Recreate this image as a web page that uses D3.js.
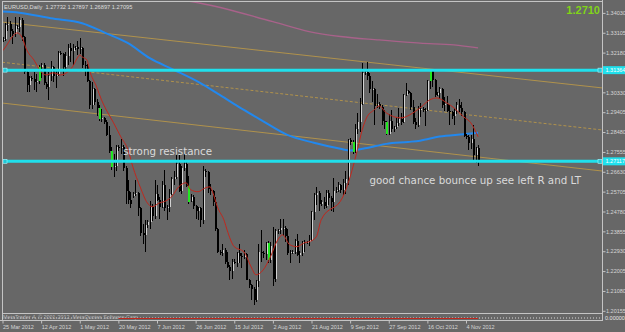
<!DOCTYPE html>
<html>
<head>
<meta charset="utf-8">
<script src="https://cdn.jsdelivr.net/npm/d3@7"></script>
<style>
  body { margin: 0; background: #676767; }
  svg { display: block; }
</style>
</head>
<body>
<div id="chart"></div>
<script>
// EURUSD daily, 25 Mar 2012 .. 9 Nov 2012, broker with Sunday bars (6 bars a week)
// each row: [open, high, low, close]
const bars = [
  [1.3275,1.3290,1.3268,1.3282],[1.3282,1.3355,1.3270,1.3345],[1.3345,1.3385,1.3320,1.3350],[1.3350,1.3365,1.3290,1.3320],[1.3320,1.3330,1.3260,1.3305],[1.3305,1.3385,1.3290,1.3340],
  [1.3335,1.3345,1.3330,1.3338],[1.3338,1.3385,1.3315,1.3370],[1.3370,1.3380,1.3270,1.3290],[1.3290,1.3295,1.3120,1.3130],[1.3130,1.3140,1.3035,1.3065],[1.3065,1.3110,1.3035,1.3100],
  [1.3100,1.3110,1.3085,1.3095],[1.3095,1.3130,1.3045,1.3080],[1.3080,1.3120,1.3035,1.3085],[1.3085,1.3160,1.3070,1.3150],[1.3150,1.3170,1.3100,1.3160],[1.3160,1.3170,1.3065,1.3075],
  [1.3070,1.3080,1.3050,1.3060],[1.3060,1.3130,1.2995,1.3110],[1.3110,1.3180,1.3085,1.3150],[1.3150,1.3155,1.3080,1.3110],[1.3110,1.3140,1.3055,1.3120],[1.3120,1.3225,1.3110,1.3215],
  [1.3215,1.3225,1.3205,1.3210],[1.3210,1.3215,1.3110,1.3150],[1.3150,1.3220,1.3140,1.3200],[1.3200,1.3260,1.3160,1.3240],[1.3240,1.3265,1.3175,1.3225],[1.3225,1.3260,1.3160,1.3240],
  [1.3240,1.3250,1.3230,1.3245],[1.3245,1.3270,1.3205,1.3235],[1.3235,1.3285,1.3210,1.3240],[1.3240,1.3245,1.3145,1.3160],[1.3160,1.3180,1.3110,1.3155],[1.3155,1.3165,1.3080,1.3085],
  [1.3085,1.3090,1.2955,1.2975],[1.2975,1.3080,1.2955,1.3050],[1.3050,1.3055,1.2975,1.2990],[1.2990,1.3000,1.2925,1.2960],[1.2960,1.2975,1.2900,1.2910],[1.2910,1.2955,1.2895,1.2915],
  [1.2915,1.2920,1.2885,1.2895],[1.2895,1.2905,1.2830,1.2835],[1.2835,1.2875,1.2750,1.2760],[1.2760,1.2780,1.2670,1.2685],[1.2685,1.2745,1.2640,1.2690],[1.2690,1.2790,1.2665,1.2780],
  [1.2780,1.2790,1.2760,1.2775],[1.2775,1.2815,1.2745,1.2780],[1.2780,1.2790,1.2665,1.2680],[1.2680,1.2690,1.2515,1.2575],[1.2575,1.2625,1.2515,1.2530],[1.2530,1.2570,1.2495,1.2515],
  [1.2550,1.2570,1.2540,1.2560],[1.2560,1.2625,1.2550,1.2565],[1.2565,1.2570,1.2455,1.2495],[1.2495,1.2500,1.2365,1.2380],[1.2380,1.2420,1.2325,1.2370],[1.2370,1.2440,1.2288,1.2415],
  [1.2415,1.2440,1.2400,1.2430],[1.2430,1.2525,1.2395,1.2500],[1.2500,1.2515,1.2435,1.2455],[1.2455,1.2625,1.2445,1.2560],[1.2560,1.2600,1.2525,1.2530],[1.2530,1.2545,1.2445,1.2500],
  [1.2500,1.2620,1.2495,1.2600],[1.2600,1.2670,1.2480,1.2495],[1.2495,1.2510,1.2440,1.2500],[1.2500,1.2585,1.2475,1.2560],[1.2560,1.2640,1.2555,1.2630],[1.2630,1.2665,1.2600,1.2640],
  [1.2640,1.2745,1.2630,1.2700],[1.2700,1.2745,1.2570,1.2575],[1.2575,1.2690,1.2560,1.2680],[1.2680,1.2745,1.2665,1.2700],[1.2700,1.2710,1.2590,1.2595],[1.2595,1.2645,1.2515,1.2520],
  [1.2525,1.2560,1.2520,1.2545],[1.2545,1.2555,1.2490,1.2505],[1.2505,1.2510,1.2445,1.2480],[1.2480,1.2500,1.2440,1.2495],[1.2495,1.2500,1.2405,1.2440],[1.2440,1.2690,1.2420,1.2665],
  [1.2665,1.2675,1.2640,1.2660],[1.2660,1.2665,1.2565,1.2585],[1.2585,1.2605,1.2555,1.2575],[1.2575,1.2580,1.2505,1.2520],[1.2520,1.2545,1.2385,1.2395],[1.2395,1.2400,1.2285,1.2290],
  [1.2290,1.2300,1.2275,1.2285],[1.2285,1.2325,1.2270,1.2300],[1.2300,1.2310,1.2235,1.2245],[1.2245,1.2290,1.2215,1.2220],[1.2220,1.2230,1.2160,1.2200],[1.2200,1.2255,1.2165,1.2245],
  [1.2245,1.2255,1.2235,1.2240],[1.2240,1.2290,1.2220,1.2285],[1.2285,1.2325,1.2240,1.2270],[1.2270,1.2285,1.2215,1.2265],[1.2265,1.2300,1.2255,1.2280],[1.2280,1.2285,1.2160,1.2160],
  [1.2160,1.2165,1.2120,1.2135],[1.2135,1.2140,1.2065,1.2115],[1.2115,1.2125,1.2042,1.2065],[1.2065,1.2160,1.2055,1.2155],[1.2155,1.2325,1.2125,1.2290],[1.2290,1.2390,1.2245,1.2285],
  [1.2285,1.2295,1.2260,1.2280],[1.2280,1.2335,1.2250,1.2330],[1.2330,1.2340,1.2240,1.2250],[1.2250,1.2335,1.2240,1.2315],[1.2315,1.2405,1.2132,1.2165],[1.2165,1.2395,1.2150,1.2385],
  [1.2385,1.2395,1.2375,1.2390],[1.2390,1.2445,1.2375,1.2400],[1.2400,1.2445,1.2365,1.2400],[1.2400,1.2410,1.2335,1.2365],[1.2365,1.2395,1.2275,1.2285],[1.2285,1.2300,1.2240,1.2290],
  [1.2290,1.2300,1.2280,1.2290],[1.2290,1.2350,1.2280,1.2340],[1.2340,1.2375,1.2270,1.2275],[1.2275,1.2295,1.2240,1.2285],[1.2285,1.2340,1.2270,1.2335],[1.2335,1.2345,1.2290,1.2330],
  [1.2330,1.2340,1.2325,1.2335],[1.2335,1.2370,1.2315,1.2345],[1.2345,1.2480,1.2340,1.2475],[1.2475,1.2565,1.2440,1.2555],[1.2555,1.2590,1.2510,1.2565],[1.2565,1.2575,1.2480,1.2515],
  [1.2515,1.2530,1.2505,1.2520],[1.2520,1.2545,1.2490,1.2505],[1.2505,1.2580,1.2495,1.2565],[1.2565,1.2580,1.2510,1.2540],[1.2540,1.2550,1.2480,1.2520],[1.2520,1.2635,1.2475,1.2575],
  [1.2575,1.2590,1.2565,1.2580],[1.2580,1.2615,1.2570,1.2600],[1.2600,1.2605,1.2565,1.2580],[1.2580,1.2630,1.2550,1.2610],[1.2610,1.2665,1.2560,1.2630],[1.2630,1.2815,1.2600,1.2810],
  [1.2810,1.2820,1.2790,1.2800],[1.2800,1.2810,1.2745,1.2755],[1.2755,1.2885,1.2750,1.2860],[1.2860,1.2935,1.2840,1.2895],[1.2895,1.3005,1.2850,1.2980],[1.2980,1.3170,1.2975,1.3125],
  [1.3125,1.3140,1.3115,1.3130],[1.3130,1.3172,1.3090,1.3110],[1.3110,1.3125,1.3030,1.3050],[1.3050,1.3085,1.2990,1.3050],[1.3050,1.3055,1.2880,1.2970],[1.2970,1.3025,1.2960,1.2980],
  [1.2980,1.2990,1.2955,1.2965],[1.2965,1.2975,1.2880,1.2900],[1.2900,1.2950,1.2860,1.2895],[1.2895,1.2900,1.2835,1.2840],[1.2840,1.2930,1.2835,1.2900],[1.2900,1.2950,1.2850,1.2860],
  [1.2860,1.2875,1.2850,1.2870],[1.2870,1.2920,1.2860,1.2890],[1.2890,1.2960,1.2875,1.2910],[1.2910,1.2935,1.2880,1.2895],[1.2895,1.3025,1.2890,1.3020],[1.3020,1.3075,1.3015,1.3040],
  [1.3040,1.3045,1.3025,1.3030],[1.3030,1.3035,1.2950,1.2965],[1.2965,1.2995,1.2885,1.2895],[1.2895,1.2915,1.2860,1.2880],[1.2880,1.2970,1.2870,1.2955],[1.2955,1.2985,1.2920,1.2955],
  [1.2955,1.2965,1.2940,1.2950],[1.2950,1.2960,1.2875,1.2950],[1.2950,1.3090,1.2945,1.3085],[1.3085,1.3140,1.3050,1.3135],[1.3135,1.3140,1.3060,1.3090],[1.3090,1.3095,1.3010,1.3020],
  [1.3020,1.3035,1.3015,1.3030],[1.3030,1.3060,1.3000,1.3050],[1.3050,1.3055,1.2960,1.2975],[1.2975,1.3010,1.2945,1.2980],[1.2980,1.3015,1.2940,1.2945],[1.2945,1.2975,1.2880,1.2940],
  [1.2940,1.2945,1.2910,1.2925],[1.2925,1.2960,1.2880,1.2945],[1.2945,1.2990,1.2930,1.2975],[1.2975,1.3000,1.2940,1.2960],[1.2960,1.2990,1.2925,1.2940],[1.2940,1.2945,1.2825,1.2830],
  [1.2830,1.2840,1.2815,1.2825],[1.2825,1.2835,1.2765,1.2795],[1.2795,1.2835,1.2770,1.2815],[1.2815,1.2880,1.2715,1.2740],[1.2740,1.2780,1.2705,1.2773],[1.27732,1.27897,1.26897,1.27095]
];

// bars the indicator paints green
const greenBars = [15, 40, 45, 77, 110, 145, 159, 177];

// time axis: bar index of each date label
const dateIndex = [0, 16, 32, 48, 64, 80, 96, 112, 128, 144, 160, 176, 192];
const dateLabels = ["25 Mar 2012", "12 Apr 2012", "1 May 2012", "20 May 2012", "7 Jun 2012", "26 Jun 2012",
  "15 Jul 2012", "2 Aug 2012", "21 Aug 2012", "9 Sep 2012", "27 Sep 2012", "16 Oct 2012", "4 Nov 2012"];

const priceTicks = [1.34030, 1.33105, 1.32180, 1.31255, 1.30330, 1.29405, 1.28480, 1.27555,
  1.26630, 1.25705, 1.24780, 1.23855, 1.22930, 1.22005, 1.21080, 1.20155];

// moving averages: [bar index, price]
const redMA = [[0,1.3226],[1,1.3240],[4,1.3291],[6,1.3310],[8,1.3291],[10,1.3231],[13,1.3184],[16,1.3128],[18,1.3114],
  [21,1.3124],[24,1.3114],[27,1.3128],[29,1.3152],[31,1.3193],[32,1.3207],[33,1.3198],[35,1.3184],[36,1.3138],[39,1.3058],
  [41,1.2998],[43,1.2951],[46,1.2891],[49,1.2826],[52,1.2765],[54,1.2686],[57,1.2593],[60,1.2518],[62,1.2500],[65,1.2518],
  [67,1.2524],[70,1.2546],[73,1.2593],[76,1.2612],[78,1.2579],[81,1.2570],[84,1.2588],[86,1.2593],[87,1.2570],[89,1.2500],
  [92,1.2430],[93,1.2393],[96,1.2314],[100,1.2290],[103,1.2220],[105,1.2183],[108,1.2206],[111,1.2267],[114,1.2346],
  [116,1.2369],[119,1.2323],[122,1.2314],[125,1.2332],[127,1.2337],[130,1.2360],[132,1.2439],[141,1.2546],[144,1.2639],
  [147,1.2765],[149,1.2858],[151,1.2919],[154,1.2951],[156,1.2970],[159,1.2937],[165,1.2914],[170,1.2937],[173,1.2961],
  [177,1.2998],[180,1.3007],[184,1.2984],[187,1.2961],[191,1.2919],[194,1.2891],[197,1.2826]];
const blueMA = [[0,1.3409],[7,1.3404],[20,1.3378],[33,1.3355],[43,1.3308],[52,1.3262],[61,1.3192],[71,1.3138],[82,1.3076],
  [90,1.3021],[100,1.2951],[107,1.2905],[118,1.2835],[129,1.2798],[140,1.2770],[144,1.2762],[151,1.2774],[159,1.2793],
  [168,1.2802],[173,1.2808],[181,1.2827],[191,1.2838],[197,1.2845]];
const pinkMA = [[74,1.3462],[82,1.3448],[112,1.3362],[127,1.3316],[140,1.3293],[156,1.3277],[173,1.3262],[187,1.3254],[197,1.3240]];

// drawn trend lines, two anchors each, extended to the chart edges
const upperTrend = [[0,1.3360],[197,1.3117]];
const middleTrend = [[0,1.3173],[197,1.2923]];
const lowerTrend = [[0,1.2983],[197,1.2732]];

// horizontal levels
const levels = [1.31364, 1.27117];

const symbolTitle = "EURUSD,Daily";
const lastBar = bars[bars.length - 1];
const bigPrice = "1.2710";
const notes = [
  {text: "strong resistance", bar: 50, price: 1.2742},
  {text: "good chance bounce up see left R and LT", bar: 152, price: 1.2607}
];

// ---------------------------------------------------------------------
const W = 625, H = 332;
const plot = {left: 2, right: 602, top: 1, bottom: 313};
const fontSmall = "5.5px 'Liberation Sans', Arial, sans-serif";
const fmt5 = d3.format(".5f");

const x = d3.scaleLinear()
  .domain([dateIndex[0], dateIndex[dateIndex.length - 1]])
  .range([2.5, 466]);
const y = d3.scaleLinear()
  .domain([1.20155, 1.34030])
  .range([310.8, 12.9]);

const svg = d3.select("#chart").append("svg")
  .attr("width", W)
  .attr("height", H)
  .style("background", "#676767");

svg.append("defs").append("clipPath").attr("id", "plotClip")
  .append("rect")
  .attr("x", plot.left + 0.5).attr("y", plot.top + 0.5)
  .attr("width", plot.right - plot.left - 0.5)
  .attr("height", plot.bottom - plot.top - 0.5);

const main = svg.append("g").attr("clip-path", "url(#plotClip)");

// trend lines
const xLo = x.invert(plot.left), xHi = x.invert(plot.right);
const extend = pts => {
  const [[i0, p0], [i1, p1]] = pts;
  const k = (p1 - p0) / (i1 - i0);
  return [[xLo, p0 + k * (xLo - i0)], [xHi, p0 + k * (xHi - i0)]];
};
const straight = d3.line().x(d => x(d[0])).y(d => y(d[1]));

main.append("path").attr("d", straight(extend(upperTrend)))
  .attr("fill", "none").attr("stroke", "#b0924c").attr("stroke-width", 1);
main.append("path").attr("d", straight(extend(middleTrend)))
  .attr("fill", "none").attr("stroke", "#b0924c").attr("stroke-width", 1)
  .attr("stroke-dasharray", "3,2");
main.append("path").attr("d", straight(extend(lowerTrend)))
  .attr("fill", "none").attr("stroke", "#b0924c").attr("stroke-width", 1);

// moving averages
const smooth = d3.line().x(d => x(d[0])).y(d => y(d[1])).curve(d3.curveMonotoneX);
main.append("path").attr("d", smooth(pinkMA))
  .attr("fill", "none").attr("stroke", "#a8628a").attr("stroke-width", 1.3);
main.append("path").attr("d", smooth(blueMA))
  .attr("fill", "none").attr("stroke", "#2288ee").attr("stroke-width", 2);

// horizontal levels
svg.selectAll(".level")
  .data(levels)
  .enter()
  .append("line")
  .attr("class", "level")
  .attr("x1", plot.left)
  .attr("x2", plot.right)
  .attr("y1", d => y(d))
  .attr("y2", d => y(d))
  .attr("stroke", "#1fe0ec")
  .attr("stroke-width", 3);

// candles: green bars get their wick underneath, others on top of the body
const barData = bars.map((d, i) => ({i: i, o: d[0], h: d[1], l: d[2], c: d[3], green: greenBars.includes(i)}));

const candles = main.append("g")
  .attr("shape-rendering", "crispEdges")
  .selectAll("g")
  .data(barData)
  .enter()
  .append("g");

const wick = sel => sel
  .attr("x1", d => Math.round(x(d.i)) + 0.5)
  .attr("x2", d => Math.round(x(d.i)) + 0.5)
  .attr("y1", d => y(d.h))
  .attr("y2", d => y(d.l))
  .attr("stroke", "#000")
  .attr("stroke-width", 1);

candles.filter(d => d.green).append("line").call(wick);

candles.append("rect")
  .attr("x", d => Math.round(x(d.i)))
  .attr("y", d => y(Math.max(d.o, d.c)))
  .attr("width", 2)
  .attr("height", d => Math.max(1, Math.abs(y(d.o) - y(d.c))))
  .attr("fill", d => d.green ? "#22e622" : (d.c >= d.o ? "#d2d2d2" : "#000"));

candles.filter(d => !d.green).append("line").call(wick);

main.append("path").attr("d", smooth(redMA))
  .attr("fill", "none").attr("stroke", "#c0281e").attr("stroke-width", 1);

// level markers at both ends
levels.forEach(p => {
  const yy = y(p);
  [plot.left + 1, plot.right - 4].forEach(mx => {
    svg.append("rect")
      .attr("x", mx).attr("y", yy - 2).attr("width", 4).attr("height", 4)
      .attr("fill", "#22c8d8").attr("stroke", "#a8f8ff").attr("stroke-width", 0.6);
  });
});

// frame
const frame = svg.append("g").attr("stroke", "#c4c4c4").attr("stroke-width", 1).attr("shape-rendering", "crispEdges");
frame.append("line").attr("x1", plot.left).attr("x2", plot.right).attr("y1", plot.top + 0.5).attr("y2", plot.top + 0.5);
frame.append("line").attr("x1", plot.left + 0.5).attr("x2", plot.left + 0.5).attr("y1", plot.top).attr("y2", 321);
frame.append("line").attr("x1", plot.right + 0.5).attr("x2", plot.right + 0.5).attr("y1", 0).attr("y2", 321);
frame.append("line").attr("x1", plot.left).attr("x2", plot.right).attr("y1", plot.bottom + 0.5).attr("y2", plot.bottom + 0.5);
frame.append("line").attr("x1", 0).attr("x2", plot.right).attr("y1", 320.5).attr("y2", 320.5);

// indicator sub-window
svg.append("line")
  .attr("x1", plot.left).attr("x2", plot.right).attr("y1", 318).attr("y2", 318)
  .attr("stroke", "#d8d8d8").attr("stroke-width", 1).attr("stroke-dasharray", "1,2");
svg.append("text")
  .attr("x", 3).attr("y", 318.6)
  .style("font", "5.4px 'Liberation Sans', Arial, sans-serif")
  .attr("fill", "#b4b4b4")
  .text("MetaTrader 4, \u00a9 2001-2012, MetaQuotes Software Corp.");
svg.append("line")
  .attr("x1", x(48)).attr("x2", x(197)).attr("y1", 318.5).attr("y2", 318.5)
  .attr("stroke", "#c0281e").attr("stroke-width", 1);
svg.append("text")
  .attr("x", plot.right + 3).attr("y", 320)
  .style("font", fontSmall)
  .attr("fill", "#e8e8e8")
  .text("0.00000");

// price axis (labels hidden under a level box are dropped)
const visibleTicks = priceTicks.filter(t => levels.every(p => Math.abs(y(t) - y(p)) > 5));
svg.append("g")
  .attr("transform", `translate(${plot.right + 0.5},0)`)
  .call(d3.axisRight(y).tickValues(visibleTicks).tickFormat(fmt5).tickSize(3).tickPadding(0.5))
  .call(g => g.select(".domain").remove())
  .call(g => g.selectAll("line").attr("stroke", "#c4c4c4"))
  .call(g => g.selectAll("text").attr("fill", "#d6d6d6").style("font", fontSmall));

// level price boxes over the axis
levels.forEach(p => {
  const yy = y(p);
  svg.append("rect")
    .attr("x", plot.right + 1).attr("y", yy - 4)
    .attr("width", W - plot.right - 1).attr("height", 8)
    .attr("fill", "#1fe0ec");
  svg.append("text")
    .attr("x", plot.right + 3.5).attr("y", yy + 2)
    .style("font", fontSmall)
    .attr("fill", "#ffffff")
    .text(fmt5(p));
});

// time axis
svg.append("g")
  .attr("transform", "translate(0,320.5)")
  .call(d3.axisBottom(x).tickValues(dateIndex).tickFormat((d, i) => dateLabels[i]).tickSize(3).tickPadding(2))
  .call(g => g.select(".domain").remove())
  .call(g => g.selectAll("line").attr("stroke", "#c4c4c4"))
  .call(g => g.selectAll("text")
    .attr("text-anchor", "start")
    .attr("fill", "#d6d6d6")
    .style("font", fontSmall));

// header
svg.append("text")
  .attr("x", 4).attr("y", 8.6)
  .style("font", "5.7px 'Liberation Sans', Arial, sans-serif")
  .attr("fill", "#dedede")
  .attr("xml:space", "preserve")
  .text(symbolTitle + "  " + lastBar.map(fmt5).join(" "));

svg.append("text")
  .attr("x", 600).attr("y", 13.8)
  .attr("text-anchor", "end")
  .style("font", "bold 11px 'Liberation Sans', Arial, sans-serif")
  .attr("fill", "#80d418")
  .text(bigPrice);

// notes
svg.selectAll(".note")
  .data(notes)
  .enter()
  .append("text")
  .attr("class", "note")
  .attr("x", d => x(d.bar))
  .attr("y", d => y(d.price))
  .style("font", "10.3px 'DejaVu Sans', sans-serif")
  .attr("fill", "#dadada")
  .text(d => d.text);
</script>
</body>
</html>
